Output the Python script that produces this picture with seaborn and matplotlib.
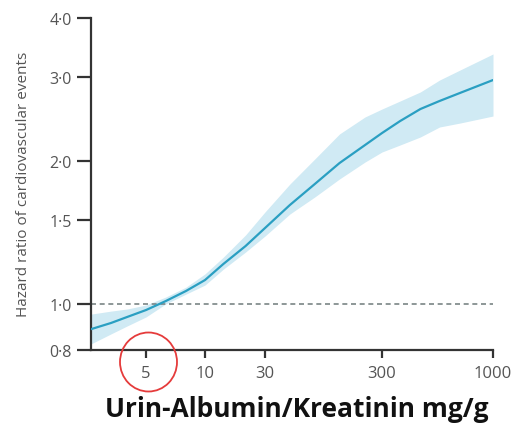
import numpy as np
import pandas as pd
import matplotlib
matplotlib.use("Agg")
import matplotlib.pyplot as plt
from matplotlib.patches import Ellipse
import seaborn as sns

# Albumin/creatinine ratio (mg/g) and hazard ratio with 95% CI
acr = [2.6, 3.3, 4.0, 5.0, 6.3, 8.0, 10, 14, 21, 30, 49, 80, 130, 215, 300, 365, 455, 560, 700, 1000]
hr = [0.885, 0.912, 0.939, 0.971, 1.014, 1.065, 1.123, 1.214, 1.324, 1.445,
      1.616, 1.789, 1.980, 2.161, 2.290, 2.427, 2.573, 2.675, 2.782, 2.961]
hr_upper = [0.952, 0.966, 0.976, 0.995, 1.034, 1.085, 1.157, 1.255, 1.397, 1.562,
            1.789, 2.020, 2.280, 2.476, 2.573, 2.675, 2.795, 2.961, 3.109, 3.360]
hr_lower = [0.824, 0.865, 0.899, 0.939, 1.000, 1.049, 1.096, 1.184, 1.286, 1.390,
            1.547, 1.680, 1.833, 1.990, 2.089, 2.161, 2.247, 2.358, 2.404, 2.487]

x_ticks = [5, 10, 30, 300, 1000]
x_ticklabels = ["5", "10", "30", "300", "1000"]
y_ticks = [0.8, 1.0, 1.5, 2.0, 3.0, 4.0]
y_ticklabels = ["0·8", "1·0", "1·5", "2·0", "3·0", "4·0"]

df = pd.DataFrame({"acr": acr, "hr": hr, "lo": hr_lower, "hi": hr_upper})

# Piecewise-logarithmic x axis (compressed at the high end)
_anchor_val = np.log10([0.1, 2.6, 5, 10, 30, 300, 1000, 1e5])
_anchor_pos = np.array([-274.0, 0, 55, 114, 174, 291, 402, 826])


def fwd(x):
    x = np.asarray(x, dtype=float)
    return np.interp(np.log10(np.clip(x, 1e-9, None)), _anchor_val, _anchor_pos)


def inv(p):
    p = np.asarray(p, dtype=float)
    return 10 ** np.interp(p, _anchor_pos, _anchor_val)


sns.set_style("ticks")
plt.rcParams["font.family"] = ["Open Sans", "DejaVu Sans"]

fig = plt.figure(figsize=(5.18, 4.27), dpi=100)
ax = fig.add_axes([91 / 518, (427 - 351) / 427, 402 / 518, 332 / 427])

line_col = "#2a9fc2"
band_col = "#d0eaf4"

ax.set_xscale("function", functions=(fwd, inv))
ax.set_yscale("log")

ax.fill_between(df["acr"], df["lo"], df["hi"], color=band_col, lw=0, zorder=1)
sns.lineplot(data=df, x="acr", y="hr", color=line_col, lw=1.6, ax=ax, zorder=3)
ax.axhline(1.0, color="#7a8585", lw=1.2, ls=(0, (3, 2.2)), zorder=2)

ax.set_xlim(2.6, 1000)
ax.set_ylim(0.8, 4.0)

ax.xaxis.set_major_locator(matplotlib.ticker.FixedLocator(x_ticks))
ax.xaxis.set_minor_locator(matplotlib.ticker.NullLocator())
ax.set_xticklabels(x_ticklabels)
ax.yaxis.set_major_locator(matplotlib.ticker.FixedLocator(y_ticks))
ax.yaxis.set_minor_locator(matplotlib.ticker.NullLocator())
ax.set_yticklabels(y_ticklabels)

sns.despine(ax=ax)
for side in ("left", "bottom"):
    ax.spines[side].set_linewidth(1.6)
    ax.spines[side].set_color("#333333")

ax.tick_params(axis="y", length=10, width=1.6, color="#333333", pad=4,
               labelsize=11.5, labelcolor="#555555")
ax.tick_params(axis="x", length=6, width=1.6, color="#333333", pad=5,
               labelsize=12, labelcolor="#555555")

ax.set_ylabel("Hazard ratio of cardiovascular events", fontsize=11, color="#555555")
ax.yaxis.set_label_coords(-0.15, 0.503)
ax.set_xlabel("Urin-Albumin/Kreatinin mg/g", fontsize=19, fontweight="bold", color="#111111")
ax.xaxis.label.set_va("baseline")
ax.xaxis.set_label_coords(0.513, -0.199)

# Highlight circle around the 5 mg/g mark
fig.patches.append(Ellipse((148.5 / 518, (427 - 363) / 427), 57 / 518, 59 / 427,
                           transform=fig.transFigure, fill=False,
                           edgecolor="#e53b3b", lw=1.3))

fig.savefig("out.png", dpi=100)
